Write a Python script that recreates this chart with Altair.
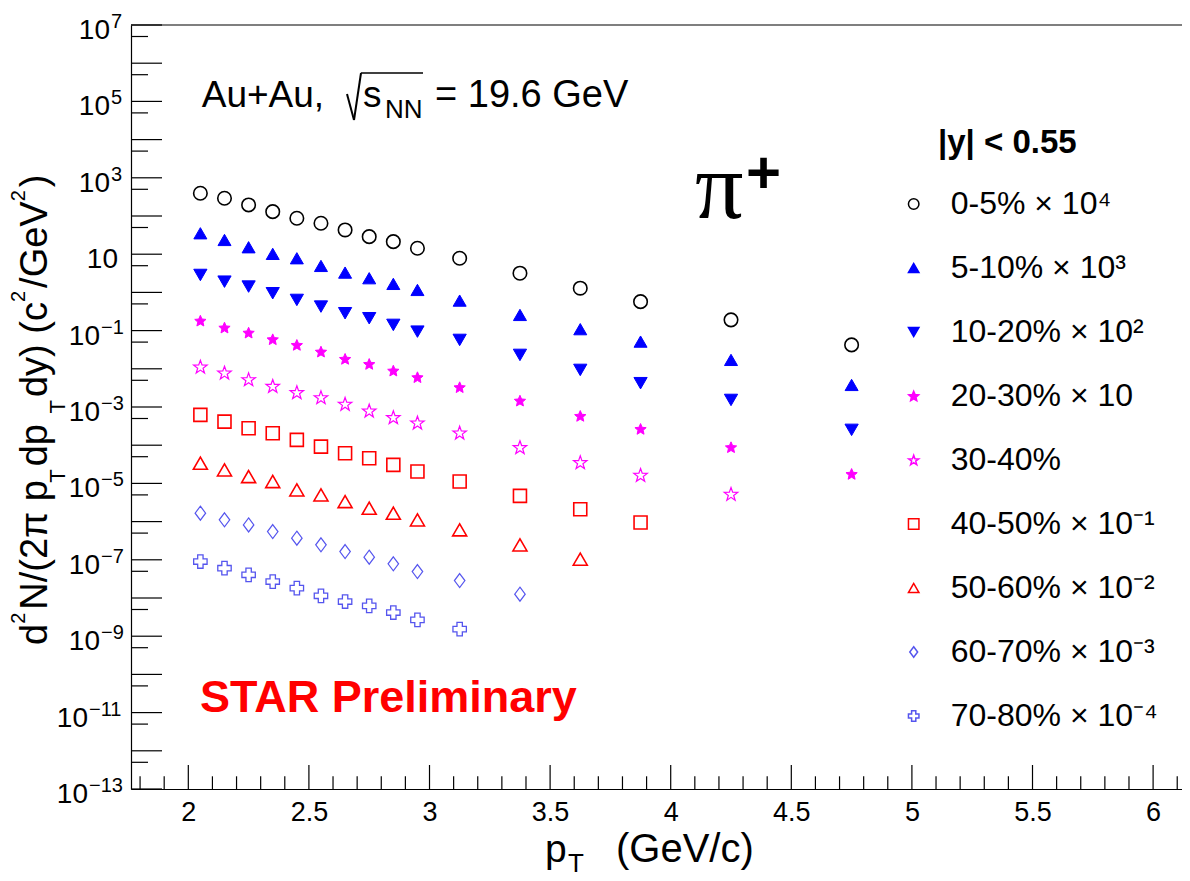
import math
import altair as alt
import pandas as pd

# ---------------- data ----------------
PT = [2.05, 2.15, 2.25, 2.35, 2.45, 2.55, 2.65, 2.75, 2.85, 2.95,
      3.125, 3.375, 3.625, 3.875, 4.25, 4.75]

SERIES = ["0-5% × 10⁴", "5-10% × 10³", "10-20% × 10²", "20-30% × 10",
          "30-40%", "40-50% × 10⁻¹", "50-60% × 10⁻²", "60-70% × 10⁻³",
          "70-80% × 10⁻⁴"]

Y_0_5 = [394, 292, 195, 130, 87.3, 64.6, 43.2, 28.8, 21.3, 14.3, 7.83, 3.18,
         1.29, 0.573, 0.191, 0.0422]
Y_5_10 = [35.3, 23.6, 15.2, 10.2, 7.83, 4.93, 3.30, 2.35, 1.67, 1.16, 0.610,
          0.257, 0.109, 0.0515, 0.0171, 0.00378]
Y_10_20 = [2.86, 1.91, 1.42, 0.951, 0.635, 0.425, 0.285, 0.211, 0.141, 0.0940,
           0.0570, 0.0231, 0.00935, 0.00420, 0.00153, 0.000252]
Y_20_30 = [0.182, 0.120, 0.0885, 0.0594, 0.0422, 0.0282, 0.0182, 0.0134,
           0.00897, 0.00603, 0.00330, 0.00147, 0.000585, 0.000267, 8.87e-5,
           1.77e-5]
Y_30_40 = [0.0114, 0.00794, 0.00533, 0.00356, 0.00244, 0.00180, 0.00121,
           0.000805, 0.000541, 0.000391, 0.000214, 8.87e-5, 3.59e-5, 1.67e-5,
           5.32e-6]
Y_40_50 = [6.21e-4, 4.15e-4, 2.79e-4, 2.06e-4, 1.38e-4, 9.2e-5, 6.18e-5,
           4.57e-5, 3.05e-5, 2.04e-5, 1.12e-5, 4.71e-6, 2.11e-6, 9.44e-7]
Y_50_60 = [3.38e-5, 2.26e-5, 1.51e-5, 1.12e-5, 6.76e-6, 5.0e-6, 3.34e-6,
           2.24e-6, 1.66e-6, 1.11e-6, 6.08e-7, 2.46e-7, 1.04e-7]
Y_60_70 = [1.66e-6, 1.11e-6, 8.2e-7, 5.48e-7, 3.68e-7, 2.46e-7, 1.64e-7,
           1.17e-7, 7.83e-8, 4.92e-8, 2.86e-8, 1.26e-8]
Y_70_80 = [8.99e-8, 6.04e-8, 4.04e-8, 2.69e-8, 1.81e-8, 1.14e-8, 8.07e-9,
           6.22e-9, 4.16e-9, 2.68e-9, 1.53e-9]

ALL_Y = [Y_0_5, Y_5_10, Y_10_20, Y_20_30, Y_30_40, Y_40_50, Y_50_60,
         Y_60_70, Y_70_80]

# axis tick values
X_MAJOR = [2, 2.5, 3, 3.5, 4, 4.5, 5, 5.5, 6]
X_MINOR = [1.8, 1.9, 2.1, 2.2, 2.3, 2.4, 2.6, 2.7, 2.8, 2.9, 3.1, 3.2, 3.3,
           3.4, 3.6, 3.7, 3.8, 3.9, 4.1, 4.2, 4.3, 4.4, 4.6, 4.7, 4.8, 4.9,
           5.1, 5.2, 5.3, 5.4, 5.6, 5.7, 5.8, 5.9, 6.1]
Y_MAJOR = [1e7, 1e6, 1e5, 1e4, 1e3, 1e2, 1e1, 1e0, 1e-1, 1e-2, 1e-3, 1e-4,
           1e-5, 1e-6, 1e-7, 1e-8, 1e-9, 1e-10, 1e-11, 1e-12, 1e-13]
Y_MINOR = [5e6, 5e5, 5e4, 5e3, 5e2, 5e1, 5e0, 5e-1, 5e-2, 5e-3, 5e-4, 5e-5,
           5e-6, 5e-7, 5e-8, 5e-9, 5e-10, 5e-11, 5e-12, 5e-13]
YLAB_A_VAL, YLAB_A_EXP = [1e7, 1e5, 1e3], ["7", "5", "3"]
YLAB_B_VAL, YLAB_B_EXP = [1e-1, 1e-3, 1e-5, 1e-7, 1e-9], ["−1", "−3", "−5", "−7", "−9"]
YLAB_C_VAL, YLAB_C_EXP = [1e-11, 1e-13], ["−11", "−13"]
YLAB_D_VAL = [10]

# ---------------- styling ----------------
FONT = "Liberation Sans"
OX, OY = 131, 25            # page position of plot origin
W, H = 1051, 764
XMIN, XMAX = 1.7624, 6.1198


def star_path(r_in):
    pts = []
    for k in range(10):
        ang = -math.pi / 2 + k * math.pi / 5
        r = 1.0 if k % 2 == 0 else r_in
        pts.append((r * math.cos(ang), r * math.sin(ang) + 0.095))
    return "M" + "L".join(f"{x:.3f},{y:.3f}" for x, y in pts) + "Z"


STAR_F = star_path(0.46)
STAR_O = star_path(0.40)
DIAMOND = "M0,-1L0.75,0L0,1L-0.75,0Z"
LB = "#5555ee"
SHAPES = ["circle", "triangle-up", "triangle-down", STAR_F, STAR_O, "square",
          "triangle-up", DIAMOND, "cross"]
FILLS = ["transparent", "#0000ff", "#0000ff", "#ff00ff", "transparent",
         "transparent", "transparent", "transparent", "transparent"]
STROKES = ["#000000", "#0000ff", "#0000ff", "#ff00ff", "#ff00ff", "#ff0000",
           "#ff0000", LB, LB]
SIZES = [182, 169, 175, 140, 200, 169, 196, 196, 180]
SWIDTH = [1.6, 1.0, 1.0, 1.0, 1.2, 1.6, 1.6, 1.2, 1.3]

rows = []
for lab, vals in zip(SERIES, ALL_Y):
    for p, v in zip(PT, vals):
        rows.append({"pt": p, "val": v, "series": lab})
df = pd.DataFrame(rows)


def X():
    return alt.X("pt:Q",
                 scale=alt.Scale(domain=[XMIN, XMAX], nice=False, zero=False),
                 axis=alt.Axis(values=X_MAJOR, format="~g", labelFontSize=27,
                               labelFont=FONT, labelColor="black",
                               labelPadding=10, ticks=False, grid=False,
                               domainColor="black", domainWidth=1.2,
                               title=None, labelFlush=False,
                               labelOverlap=False))


def Y():
    return alt.Y("val:Q",
                 scale=alt.Scale(type="log", domain=[1e-13, 1e7], nice=False),
                 axis=alt.Axis(labels=False, ticks=False, grid=False,
                               domainColor="black", domainWidth=1.2,
                               title=None))


LEG = alt.Legend(orient="none", legendX=766.7, legendY=163, title=None,
                 labelFontSize=32, labelFont=FONT, labelColor="black",
                 symbolSize=110, symbolStrokeWidth=1.5, labelOffset=21,
                 rowPadding=32, padding=0, labelLimit=500)

layers = []

# tick marks (inside the frame, like ROOT)
layers.append(alt.Chart(pd.DataFrame({"val": Y_MAJOR})).mark_rule(
    color="black", strokeWidth=1.2).encode(
    y=Y(), x=alt.value(0), x2=alt.value(31)))
layers.append(alt.Chart(pd.DataFrame({"val": Y_MINOR})).mark_rule(
    color="black", strokeWidth=1.2).encode(
    y=Y(), x=alt.value(0), x2=alt.value(17)))
layers.append(alt.Chart(pd.DataFrame({"pt": X_MAJOR})).mark_rule(
    color="black", strokeWidth=1.2).encode(
    x=X(), y=alt.value(H), y2=alt.value(H - 24)))
layers.append(alt.Chart(pd.DataFrame({"pt": X_MINOR})).mark_rule(
    color="black", strokeWidth=1.2).encode(
    x=X(), y=alt.value(H), y2=alt.value(H - 12.7)))
# top frame line
layers.append(alt.Chart(pd.DataFrame({"a": [0]})).mark_rule(
    color="black", strokeWidth=1.2).encode(
    x=alt.value(0), x2=alt.value(W), y=alt.value(0)))


# y tick labels: "10" with raised exponent
def ylab(vals, exps, base_right, exp_left):
    d = pd.DataFrame({"val": vals, "exp": exps if exps else [""] * len(vals)})
    out = [alt.Chart(d).mark_text(text="10", align="right", baseline="alphabetic",
                                  dy=14, fontSize=28, font=FONT, color="black"
                                  ).encode(y=Y(), x=alt.value(base_right))]
    if exps:
        out.append(alt.Chart(d).mark_text(align="left", baseline="alphabetic",
                                          dy=3, fontSize=20, font=FONT,
                                          color="black").encode(
            y=Y(), x=alt.value(exp_left), text="exp:N"))
    return out


layers += ylab(YLAB_A_VAL, YLAB_A_EXP, -21, -20)
layers += ylab(YLAB_B_VAL, YLAB_B_EXP, -31, -30)
layers += ylab(YLAB_C_VAL, YLAB_C_EXP, -43, -42)
layers += ylab(YLAB_D_VAL, None, -13, 0)

# data points
for i, lab in enumerate(SERIES):
    layers.append(alt.Chart(df).transform_filter(alt.datum.series == lab)
                  .mark_point(opacity=1, filled=False, size=SIZES[i],
                              strokeWidth=SWIDTH[i])
                  .encode(
        x=X(), y=Y(),
        shape=alt.Shape("series:N", scale=alt.Scale(domain=SERIES, range=SHAPES), legend=LEG),
        fill=alt.Fill("series:N", scale=alt.Scale(domain=SERIES, range=FILLS), legend=LEG),
        stroke=alt.Stroke("series:N", scale=alt.Scale(domain=SERIES, range=STROKES), legend=LEG),
    ))


def txt(s, x, y, size, bold=False, color="black", angle=0, font=FONT,
        align="left"):
    kw = dict(align=align, baseline="alphabetic", fontSize=size, font=font,
              fontWeight="bold" if bold else "normal", color=color)
    if angle:
        kw["angle"] = angle
    return alt.Chart(pd.DataFrame({"t": [s]})).mark_text(**kw).encode(
        x=alt.value(x - OX), y=alt.value(y - OY), text="t:N")


def seg(x1, y1, x2, y2, w=2.0):
    return alt.Chart(pd.DataFrame({"a": [0]})).mark_rule(
        color="black", strokeWidth=w).encode(
        x=alt.value(x1 - OX), y=alt.value(y1 - OY),
        x2=alt.value(x2 - OX), y2=alt.value(y2 - OY))


# header text: Au+Au, sqrt(s_NN) = 19.6 GeV
layers.append(txt("Au+Au,", 201.7, 106.7, 37))
layers.append(seg(347, 94, 354, 120))
layers.append(seg(354, 120, 361, 73))
layers.append(seg(361, 73, 423, 73, 1.6))
layers.append(txt("s", 363, 106.7, 37))
layers.append(txt("NN", 385, 118, 26))
layers.append(txt("= 19.6 GeV", 435, 106.7, 38))

# particle label
layers.append(txt("π", 695, 218, 96, font="Liberation Serif"))
layers.append(txt("+", 746, 193, 60, bold=True))

# rapidity label
layers.append(txt("|y| < 0.55", 938, 153, 33, bold=True))

# STAR Preliminary
layers.append(txt("STAR Preliminary", 200, 712, 45, bold=True, color="#ff0000"))

# x-axis title: p_T (GeV/c)
layers.append(txt("p", 545, 862, 39))
layers.append(txt("T", 568, 872, 26))
layers.append(txt("(GeV/c)", 616, 862, 40))

# y-axis title (rotated), laid out with Helvetica/Arial advance widths
WID = {" ": 278, "(": 333, ")": 333, "/": 278, "2": 556, "d": 556, "N": 722,
       "p": 556, "T": 611, "y": 500, "c": 500, "G": 778, "e": 556, "V": 667,
       "π": 620}
M, SUB, SUP = 38, 22, 20
pieces = [("d", "m"), ("2", "sup"), ("N/(2π p", "m"), ("T", "sub"),
          (" dp", "m"), ("T", "sub"), ("dy) (c", "m"), ("2", "sup"),
          ("/GeV", "m"), ("2", "sup"), (")", "m")]
ypos = 645.0
BASE_X = 46.7
for s, kind in pieces:
    if kind == "m":
        size, bx, gap = M, BASE_X, 0
    elif kind == "sup":
        size, bx, gap = SUP, BASE_X - 22, 3
    else:
        size, bx, gap = SUB, BASE_X + 18, 3
    layers.append(txt(s, bx, ypos, size, angle=270))
    ypos -= sum(WID[c] for c in s) * size / 1000.0 + gap

chart = alt.layer(*layers).properties(
    width=W, height=H,
    padding={"left": OX - 8, "top": OY - 8, "right": 0, "bottom": 90},
    autosize=alt.AutoSizeParams(type="none"),
    background="white",
).configure_view(stroke=None)

chart.save("out.html", embed_options={"renderer": "svg", "actions": False})
